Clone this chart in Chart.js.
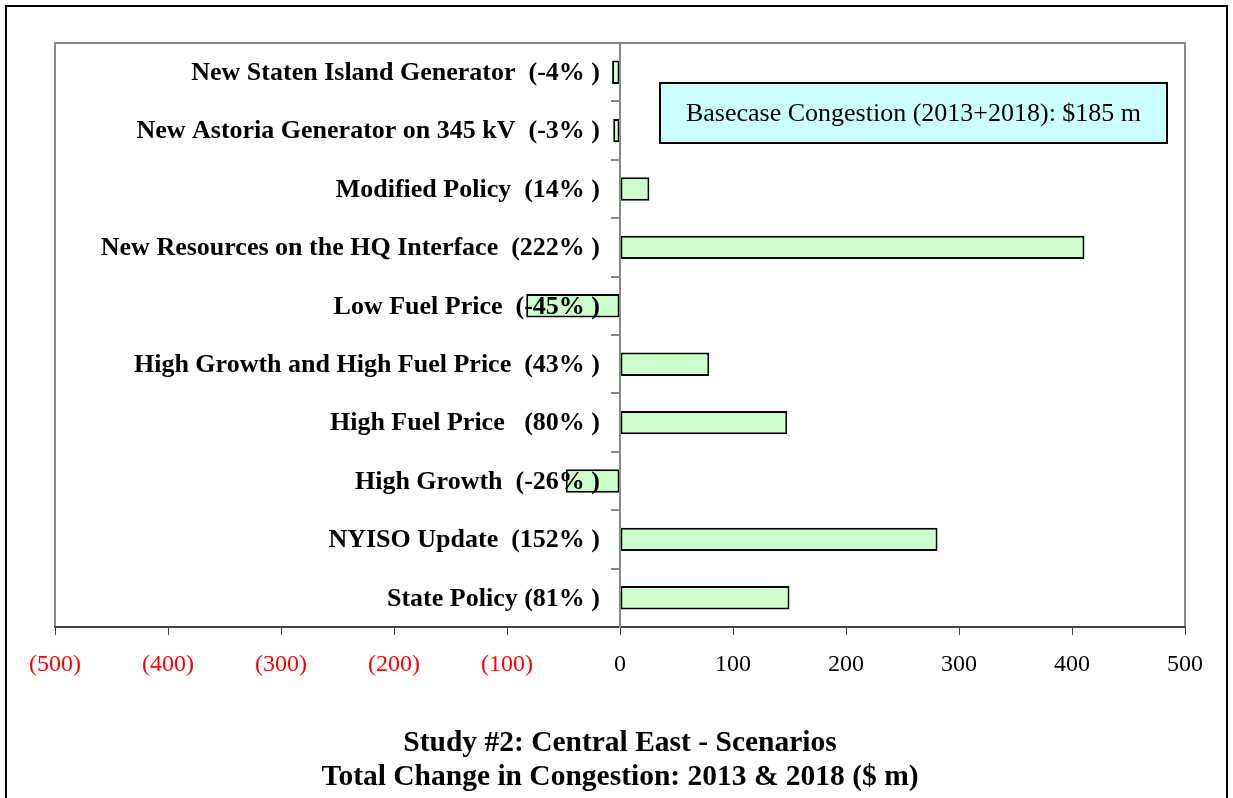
<!DOCTYPE html>
<html>
<head>
<meta charset="utf-8">
<script src="https://cdn.jsdelivr.net/npm/chart.js@4.4.1/dist/chart.umd.min.js"></script>
<style>
  html, body { margin: 0; padding: 0; background: #ffffff; }
  #wrap { position: relative; width: 1233px; height: 798px; }
</style>
</head>
<body>
<div id="wrap"><canvas id="c" width="1233" height="798"></canvas></div>
<script>
const categories = [
  "New Staten Island Generator  (-4% )",
  "New Astoria Generator on 345 kV  (-3% )",
  "Modified Policy  (14% )",
  "New Resources on the HQ Interface  (222% )",
  "Low Fuel Price  (-45% )",
  "High Growth and High Fuel Price  (43% )",
  "High Fuel Price   (80% )",
  "High Growth  (-26% )",
  "NYISO Update  (152% )",
  "State Policy (81% )"
];
const changeValues = [-7, -6, 26, 411, -83, 79, 148, -48, 281, 150];
const xTickValues = [-500, -400, -300, -200, -100, 0, 100, 200, 300, 400, 500];
const titleLines = ["Study #2: Central East - Scenarios", "Total Change in Congestion: 2013 & 2018 ($ m)"];
const noteText = "Basecase Congestion (2013+2018): $185 m";

const SERIF = "'Liberation Serif', 'Times New Roman', serif";

const framePlugin = {
  id: 'frames',
  beforeDraw(chart) {
    const {ctx, chartArea: a} = chart;
    ctx.save();
    ctx.strokeStyle = '#000';
    ctx.lineWidth = 2;
    ctx.beginPath();
    ctx.moveTo(6, 798);
    ctx.lineTo(6, 6);
    ctx.lineTo(1227, 6);
    ctx.lineTo(1227, 798);
    ctx.stroke();
    ctx.strokeStyle = '#888';
    ctx.lineWidth = 2;
    ctx.strokeRect(a.left, a.top, a.right - a.left, a.bottom - a.top);
    ctx.restore();
  },
  afterDatasetsDraw(chart) {
    const {ctx} = chart;
    const xs = chart.scales.x, ys = chart.scales.y;
    const xr = xs.getPixelForValue(0) - 20;
    ctx.save();
    ctx.fillStyle = '#000';
    ctx.font = "bold 26px " + SERIF;
    ctx.textAlign = 'right';
    ctx.textBaseline = 'middle';
    chart.data.labels.forEach((lab, i) => {
      ctx.fillText(lab, xr, ys.getPixelForValue(i) + 1);
    });
    ctx.restore();
  },
  afterDraw(chart) {
    const {ctx, chartArea: a} = chart;
    const x0 = a.left + 605, y0 = a.top + 40, w = 507, h = 60;
    ctx.save();
    ctx.fillStyle = '#CCFFFF';
    ctx.fillRect(x0, y0, w, h);
    ctx.strokeStyle = '#000';
    ctx.lineWidth = 2;
    ctx.strokeRect(x0, y0, w, h);
    ctx.fillStyle = '#000';
    ctx.font = "26px " + SERIF;
    ctx.textAlign = 'center';
    ctx.textBaseline = 'middle';
    ctx.fillText(noteText, x0 + w / 2, y0 + h / 2 + 1);
    ctx.restore();
  }
};

new Chart(document.getElementById('c'), {
  type: 'bar',
  data: {
    labels: categories,
    datasets: [{
      data: changeValues,
      backgroundColor: '#CCFFCC',
      borderColor: '#000',
      borderWidth: 2,
      borderSkipped: false,
      barPercentage: 0.4,
      categoryPercentage: 1.0
    }]
  },
  options: {
    indexAxis: 'y',
    responsive: false,
    animation: false,
    layout: { padding: { left: 55, right: 48, top: 43, bottom: 0 } },
    plugins: {
      legend: { display: false },
      tooltip: { enabled: false },
      title: {
        display: true,
        position: 'bottom',
        text: titleLines,
        color: '#000',
        font: { family: SERIF, size: 29.5, weight: 'bold', lineHeight: 34 / 29.5 },
        padding: { top: 31, bottom: 4 }
      }
    },
    scales: {
      x: {
        type: 'linear',
        min: -500,
        max: 500,
        afterBuildTicks(scale) { scale.ticks = xTickValues.map(v => ({ value: v })); },
        border: { display: true, color: '#444', width: 2 },
        grid: { display: true, drawOnChartArea: false, drawTicks: true, tickLength: 8, color: '#444', lineWidth: 1 },
        ticks: {
          padding: 15.6,
          maxRotation: 0,
          font: { family: SERIF, size: 24 },
          color: ctx => (ctx.tick && ctx.tick.value < 0) ? '#FF0000' : '#000',
          callback: v => v < 0 ? '(' + Math.abs(v) + ')' : String(v)
        }
      },
      y: {
        type: 'category',
        position: { x: 0 },
        offset: true,
        border: { display: true, color: '#888', width: 2, z: 1 },
        grid: { display: true, drawOnChartArea: false, drawTicks: true, tickLength: 8, color: '#888', lineWidth: 2, offset: true },
        ticks: { display: false }
      }
    }
  },
  plugins: [framePlugin]
});
</script>
</body>
</html>
